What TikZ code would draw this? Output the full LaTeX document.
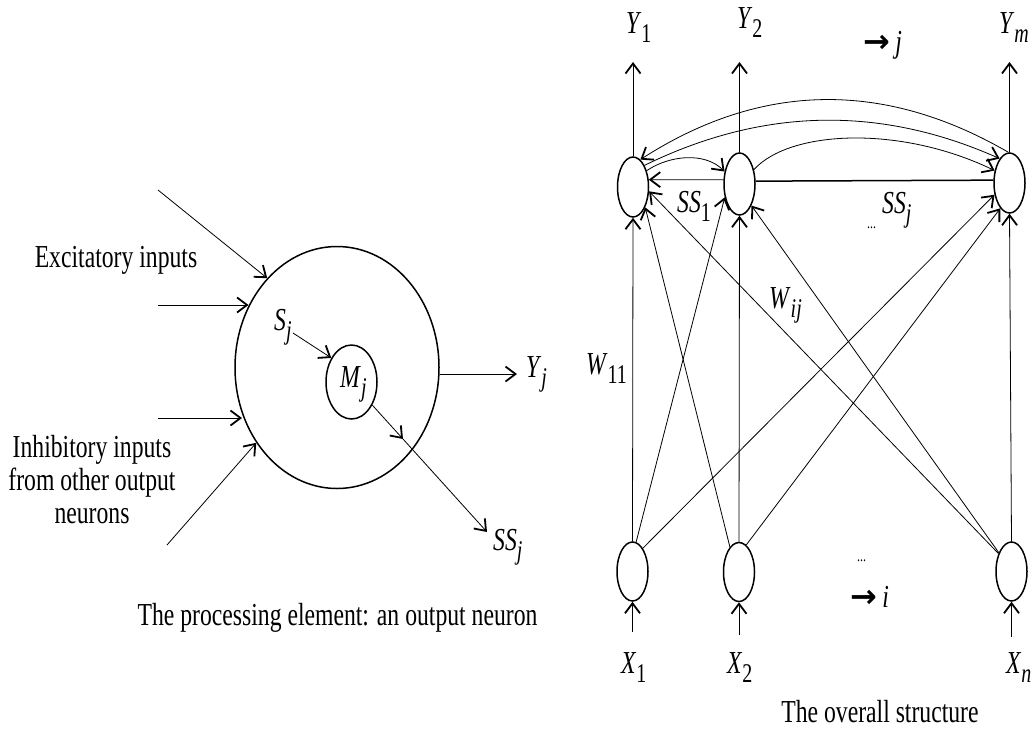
\documentclass[tikz,border=0pt]{standalone}
\usepackage{fontspec}
\setmainfont{Liberation Serif}[FakeStretch=0.74]
\newfontfamily\arrowfont{DejaVu Sans}
\usetikzlibrary{arrows.meta,shapes.geometric}
\newcommand\lb[2]{\textit{#1}\raisebox{-0.3em}{\fontsize{27}{27}\selectfont #2}}
\tikzset{
  neu/.style={draw, ellipse, line width=1.5pt, inner sep=0pt, minimum width=31pt, minimum height=60pt},
  con/.style={line width=0.8pt, -{Straight Barb[length=10pt,width=15pt,line width=1.8pt]}},
  txt/.style={font=\fontsize{32}{33}\selectfont, inner sep=0pt},
  dots/.style={font=\fontsize{16}{16}\selectfont, inner sep=0pt},
}
\begin{document}
\begin{tikzpicture}[x=1pt,y=-1pt]
\useasboundingbox (0,0) rectangle (1034,732);
% ---------------- left: processing element ----------------
\node[draw, ellipse, line width=1.5pt, inner sep=0pt, minimum width=204pt, minimum height=242pt] (big) at (337,367.5) {};
\node[draw, ellipse, line width=1.5pt, inner sep=0pt, minimum width=51pt, minimum height=74pt] (M) at (351.5,382) {};
\node[txt, anchor=base west] (Mlab) at (340,387) {\lb{M}{\textit{j}}};
\node[txt, anchor=base west] (Slab) at (274,330) {\lb{S}{\textit{j}}};
\coordinate (sjs) at (293,333);
\draw[con] (sjs) -- (M.130);

\coordinate (e0) at (158,190);
\coordinate (e1) at (158,305);
\coordinate (i1) at (158,418);
\coordinate (i0) at (167,545);
\draw[con] (e0) -- (big.128.7);
\draw[con] (e1) -- (big.145.8 |- e1);
\draw[con] (i1) -- (big.206.6 |- i1);
\draw[con] (i0) -- (big.223.8);

\node[txt, anchor=base] (exc) at (116,267) {Excitatory inputs};
\node[txt, anchor=base] (inh1) at (92,457) {Inhibitory inputs};
\node[txt, anchor=base] (inh2) at (92,490) {from other output};
\node[txt, anchor=base] (inh3) at (92,523) {neurons};

\coordinate (yje) at (517,374);
\draw[con] (big.east |- yje) -- (yje);
\node[txt, anchor=base west] (yj) at (526,377) {\lb{Y}{\textit{j}}};

\coordinate (mid) at (403,439);
\coordinate (ssje) at (487,532);
\draw[con] (M.312) -- (mid);
\draw[con] (mid) -- (ssje);
\node[txt, anchor=base west] (ssj) at (493,550) {\lb{SS}{\textit{j}}};

\node[txt, anchor=base] (cap1) at (337.5,625) {The processing element: an output neuron};

% ---------------- right: overall structure ----------------
\node[neu] (C1) at (633,187) {};
\node[neu, minimum height=62pt] (C2) at (739.5,184) {};
\node[neu] (Cm) at (1009.5,183) {};
\node[neu, minimum height=59pt] (B1) at (632.5,571.5) {};
\node[neu, minimum height=59pt] (B2) at (739,572) {};
\node[neu, minimum height=59pt] (Bn) at (1011.5,571.5) {};

% outputs
\coordinate (y1a) at (633,62);
\coordinate (y2a) at (739.5,62);
\coordinate (yma) at (1009.5,62);
\draw[con] (C1.north) -- (y1a);
\draw[con] (C2.north) -- (y2a);
\draw[con] (Cm.north) -- (yma);
\node[txt, anchor=base west] (Y1) at (626,33) {\lb{Y}{1}};
\node[txt, anchor=base west] (Y2) at (737,28) {\lb{Y}{2}};
\node[txt, anchor=base west] (Ym) at (999,33) {\lb{Y}{\textit{m}}};
\node[txt, anchor=base west] (jdir) at (863,52) {{\arrowfont\bfseries →}\,\textit{j}};

% inputs
\coordinate (x1a) at (632.5,632);
\coordinate (x2a) at (739,635);
\coordinate (xna) at (1011.5,637);
\draw[con] (x1a) -- (B1.south);
\draw[con] (x2a) -- (B2.south);
\draw[con] (xna) -- (Bn.south);
\node[txt, anchor=base west] (X1) at (621,673) {\lb{X}{1}};
\node[txt, anchor=base west] (X2) at (727,673) {\lb{X}{2}};
\node[txt, anchor=base west] (Xn) at (1006,673) {\lb{X}{\textit{n}}};
\node[dots, anchor=base west] (dotsb) at (857,561) {...};
\node[txt, anchor=base west] (idir) at (850,607) {{\arrowfont\bfseries →}\,\textit{i}};
\node[txt, anchor=base] (cap2) at (880,722) {The overall structure};

% lateral connections
\draw[con] (Cm.92) .. controls (884,80) and (761,82) .. (C1.75);
\draw[con] (C1.62) .. controls (764,107) and (881,106) .. (Cm.112);
\draw[con] (C2.45) .. controls (790,130) and (900,125) .. (Cm.140);
\draw[con] (C1.50) .. controls (670,155) and (705,152) .. (C2.140);
\draw[con] (C2.165) -- (C1.25);
\draw[line width=1.5pt] (C2.10) -- (Cm.170);
\node[txt, anchor=base west] (ss1) at (677,212) {\lb{SS}{1}};
\node[txt, anchor=base west] (ssjr) at (882,213) {\lb{SS}{\textit{j}}};
\node[dots, anchor=base west] (dotst) at (867,228) {...};

% weights
\draw[con] (B1.north) -- (C1.south);
\draw[con] (B1.83) -- (C2.222);
\draw[con] (B1.66) -- (Cm.218);
\draw[con] (B2.110) -- (C1.301);
\draw[con] (B2.north) -- (C2.south);
\draw[con] (B2.75) -- (Cm.250);
\draw[con] (Bn.126) -- (C1.345);
\draw[con] (Bn.124) -- (C2.299);
\draw[con] (Bn.north) -- (Cm.south);
\node[txt, anchor=base west] (W11) at (586,374) {\lb{W}{11}};
\node[txt, anchor=base west] (Wij) at (769,308) {\lb{W}{\textit{ij}}};
\end{tikzpicture}
\end{document}
